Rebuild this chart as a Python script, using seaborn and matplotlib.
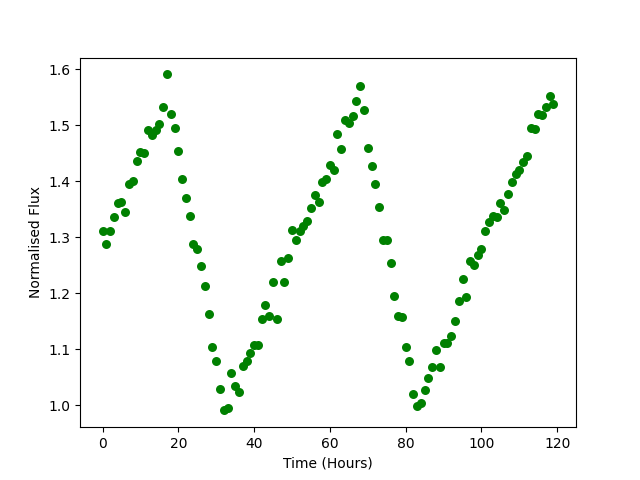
import matplotlib
matplotlib.use("Agg")
import matplotlib.pyplot as plt
import seaborn as sns
import pandas as pd

time_hours = list(range(120))
flux = [
    1.311, 1.288, 1.311, 1.336, 1.361, 1.363, 1.346, 1.396, 1.400, 1.436,
    1.452, 1.450, 1.491, 1.482, 1.491, 1.502, 1.532, 1.591, 1.521, 1.495,
    1.454, 1.405, 1.370, 1.338, 1.289, 1.279, 1.248, 1.214, 1.164, 1.104,
    1.080, 1.030, 0.991, 0.996, 1.057, 1.034, 1.023, 1.070, 1.079, 1.093,
    1.107, 1.107, 1.155, 1.179, 1.159, 1.220, 1.155, 1.257, 1.220, 1.263,
    1.314, 1.296, 1.311, 1.320, 1.330, 1.352, 1.375, 1.363, 1.398, 1.404,
    1.429, 1.420, 1.484, 1.457, 1.509, 1.504, 1.516, 1.543, 1.570, 1.527,
    1.459, 1.427, 1.395, 1.354, 1.295, 1.295, 1.254, 1.196, 1.159, 1.157,
    1.105, 1.080, 1.020, 0.998, 1.005, 1.027, 1.048, 1.068, 1.098, 1.068,
    1.112, 1.112, 1.123, 1.150, 1.186, 1.225, 1.193, 1.257, 1.250, 1.268,
    1.279, 1.312, 1.327, 1.339, 1.336, 1.361, 1.348, 1.377, 1.398, 1.414,
    1.421, 1.434, 1.446, 1.495, 1.493, 1.520, 1.518, 1.532, 1.552, 1.539,
]

df = pd.DataFrame({"Time (Hours)": time_hours, "Normalised Flux": flux})

fig, ax = plt.subplots(figsize=(6.4, 4.8), dpi=100)
sns.scatterplot(data=df, x="Time (Hours)", y="Normalised Flux", color="green",
                s=42, linewidth=0, ax=ax)
ax.set_xlabel("Time (Hours)")
ax.set_ylabel("Normalised Flux")
fig.savefig("out.png", dpi=100)
